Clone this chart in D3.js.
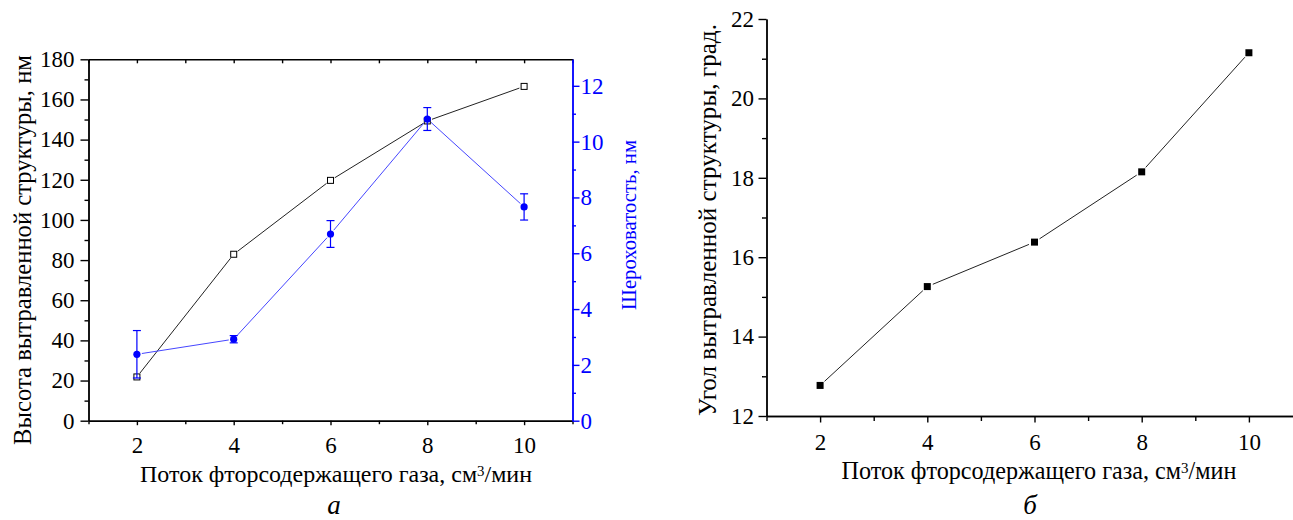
<!DOCTYPE html>
<html>
<head>
<meta charset="utf-8">
<script src="https://cdn.jsdelivr.net/npm/d3@7"></script>
<style>
  body { margin: 0; background: #fff; }
</style>
</head>
<body>
<svg id="svg1" width="1293" height="520"></svg>
<script>
// данные
var flow = [2, 4, 6, 8, 10];
var heightNm = [21.8, 82.9, 119.7, 149.3, 166.5];
var roughness = [2.38, 2.92, 6.69, 10.81, 7.66];
var roughnessErr = [0.85, 0.13, 0.48, 0.41, 0.47];
var angle = [12.77, 15.26, 16.38, 18.15, 21.15];

var xMajor = [2, 4, 6, 8, 10];
var xMinor = [1, 3, 5, 7, 9, 11];
var heightTicks = [0, 20, 40, 60, 80, 100, 120, 140, 160, 180];
var heightMinor = [10, 30, 50, 70, 90, 110, 130, 150, 170];
var roughTicks = [0, 2, 4, 6, 8, 10, 12];
var roughMinor = [1, 3, 5, 7, 9, 11];
var angleTicks = [12, 14, 16, 18, 20, 22];
var angleMinor = [13, 15, 17, 19, 21];

var blue = "#0000ff";
var fs = 23;
var font = "'Liberation Serif', 'Times New Roman', Times, serif";

var svg = d3.select("#svg1").attr("font-family", font);

// отрезки линии с зазором у маркеров (как в Origin)
function gapSegments(g, pts, gap, color) {
  for (var i = 0; i < pts.length - 1; i++) {
    var a = pts[i], b = pts[i + 1];
    var dx = b[0] - a[0], dy = b[1] - a[1];
    var len = Math.sqrt(dx * dx + dy * dy);
    var ux = dx / len, uy = dy / len;
    g.append("line")
      .attr("x1", a[0] + ux * gap).attr("y1", a[1] + uy * gap)
      .attr("x2", b[0] - ux * gap).attr("y2", b[1] - uy * gap)
      .attr("stroke", color).attr("stroke-width", 1);
  }
}

function styleAxis(sel, color) {
  sel.attr("font-family", font).attr("font-size", fs);
  sel.selectAll("path").attr("stroke", color).attr("stroke-width", 1.4);
  sel.selectAll("line").attr("stroke", color).attr("stroke-width", 1.4);
  sel.selectAll("text").attr("fill", color);
}

// подгоняем размер шрифта под длину подписи на картинке
function fitText(t, width) {
  t.attr("font-size", 20);
  var w = t.node().getComputedTextLength();
  t.attr("font-size", (20 * width / w).toFixed(2));
  return t;
}

function xTitle(x, y, width) {
  var t = svg.append("text").attr("x", x).attr("y", y).attr("text-anchor", "middle");
  t.append("tspan").text("Поток фторсодержащего газа, см");
  t.append("tspan").attr("dy", "-0.42em").attr("font-size", "0.62em").text("3");
  t.append("tspan").attr("dy", "0.26em").text("/мин");
  fitText(t, width);
}

function yTitle(x, y, width, label, color) {
  var t = svg.append("text").attr("transform", "translate(" + x + "," + y + ") rotate(-90)")
    .attr("text-anchor", "middle").attr("fill", color).text(label);
  fitText(t, width);
}

// ===== график а =====
var x1 = d3.scaleLinear().domain([1, 11]).range([88.5, 572.5]);
var yL = d3.scaleLinear().domain([0, 180]).range([420.7, 59.3]);
var yR = d3.scaleLinear().domain([0, 12.95]).range([420.7, 59.3]);

var gA = svg.append("g");

// верхняя рамка
var top1 = gA.append("g").attr("transform", "translate(0," + yL(180) + ")")
  .call(d3.axisTop(x1).tickValues(xMajor.concat(xMinor)).tickSize(-4).tickSizeOuter(0).tickFormat(""));
styleAxis(top1, "#000");

// нижняя ось
var bMin1 = gA.append("g").attr("transform", "translate(0," + yL(0) + ")")
  .call(d3.axisBottom(x1).tickValues(xMinor).tickSize(3.5).tickSizeOuter(0).tickFormat(""));
styleAxis(bMin1, "#000");
var bot1 = gA.append("g").attr("transform", "translate(0," + yL(0) + ")")
  .call(d3.axisBottom(x1).tickValues(xMajor).tickSize(4.5).tickSizeOuter(0).tickPadding(11));
styleAxis(bot1, "#000");

// левая ось
var lMin = gA.append("g").attr("transform", "translate(" + x1(1) + ",0)")
  .call(d3.axisLeft(yL).tickValues(heightMinor).tickSize(4).tickSizeOuter(0).tickFormat(""));
styleAxis(lMin, "#000");
var lAx = gA.append("g").attr("transform", "translate(" + x1(1) + ",0)")
  .call(d3.axisLeft(yL).tickValues(heightTicks).tickSize(8).tickSizeOuter(0).tickPadding(6));
styleAxis(lAx, "#000");

// правая ось (синяя)
var rMin = gA.append("g").attr("transform", "translate(" + x1(11) + ",0)")
  .call(d3.axisRight(yR).tickValues(roughMinor).tickSize(3.5).tickSizeOuter(0).tickFormat(""));
styleAxis(rMin, blue);
var rAx = gA.append("g").attr("transform", "translate(" + x1(11) + ",0)")
  .call(d3.axisRight(yR).tickValues(roughTicks).tickSize(7).tickSizeOuter(0).tickPadding(1));
styleAxis(rAx, blue);

// высота
var hPts = flow.map(function(d, i) { return [x1(d), yL(heightNm[i])]; });
gapSegments(gA, hPts, 5, "#222");
gA.selectAll(".hsq").data(hPts).enter().append("rect")
  .attr("x", function(d) { return d[0] - 3; }).attr("y", function(d) { return d[1] - 3; })
  .attr("width", 6).attr("height", 6)
  .attr("fill", "#fff").attr("stroke", "#000").attr("stroke-width", 1);

// шероховатость
var rPts = flow.map(function(d, i) { return [x1(d), yR(roughness[i])]; });
gapSegments(gA, rPts, 5, "#4646ff");
var eb = gA.selectAll(".err").data(flow).enter().append("g");
eb.append("line")
  .attr("x1", function(d) { return x1(d); }).attr("x2", function(d) { return x1(d); })
  .attr("y1", function(d, i) { return yR(roughness[i] - roughnessErr[i]); })
  .attr("y2", function(d, i) { return yR(roughness[i] + roughnessErr[i]); })
  .attr("stroke", blue).attr("stroke-width", 1.2);
[-1, 1].forEach(function(s) {
  eb.append("line")
    .attr("x1", function(d) { return x1(d) - 4; }).attr("x2", function(d) { return x1(d) + 4; })
    .attr("y1", function(d, i) { return yR(roughness[i] + s * roughnessErr[i]); })
    .attr("y2", function(d, i) { return yR(roughness[i] + s * roughnessErr[i]); })
    .attr("stroke", blue).attr("stroke-width", 1.2);
});
gA.selectAll(".rdot").data(rPts).enter().append("circle")
  .attr("cx", function(d) { return d[0]; }).attr("cy", function(d) { return d[1]; })
  .attr("r", 3.6).attr("fill", blue);

// подписи осей
yTitle(31, 250, 390, "Высота вытравленной структуры, нм", "#000");
yTitle(636, 225, 170, "Шероховатость, нм", blue);
xTitle(336, 482, 392);
svg.append("text").attr("x", 334).attr("y", 514).attr("text-anchor", "middle")
  .attr("font-size", 27).attr("font-style", "italic").text("а");

// ===== график б =====
var x2 = d3.scaleLinear().domain([1, 11]).range([766.5, 1302.5]);
var y2 = d3.scaleLinear().domain([12, 22]).range([416, 19]);
var gB = svg.append("g");

var bMin2 = gB.append("g").attr("transform", "translate(0," + y2(12) + ")")
  .call(d3.axisBottom(x2).tickValues(xMinor).tickSize(5).tickSizeOuter(0).tickFormat(""));
styleAxis(bMin2, "#000");
var bot2 = gB.append("g").attr("transform", "translate(0," + y2(12) + ")")
  .call(d3.axisBottom(x2).tickValues(xMajor).tickSize(6.5).tickSizeOuter(0).tickPadding(11));
styleAxis(bot2, "#000");

var lMin2 = gB.append("g").attr("transform", "translate(" + x2(1) + ",0)")
  .call(d3.axisLeft(y2).tickValues(angleMinor).tickSize(4.5).tickSizeOuter(0).tickFormat(""));
styleAxis(lMin2, "#000");
var lAx2 = gB.append("g").attr("transform", "translate(" + x2(1) + ",0)")
  .call(d3.axisLeft(y2).tickValues(angleTicks).tickSize(8).tickSizeOuter(0).tickPadding(4.5));
styleAxis(lAx2, "#000");

var aPts = flow.map(function(d, i) { return [x2(d), y2(angle[i])]; });
gapSegments(gB, aPts, 6, "#222");
gB.selectAll(".asq").data(aPts).enter().append("rect")
  .attr("x", function(d) { return d[0] - 3.5; }).attr("y", function(d) { return d[1] - 3.5; })
  .attr("width", 7).attr("height", 7).attr("fill", "#000");

yTitle(716, 220, 392, "Угол вытравленной структуры, град.", "#000");
xTitle(1039, 479, 395);
svg.append("text").attr("x", 1030).attr("y", 514).attr("text-anchor", "middle")
  .attr("font-size", 27).attr("font-style", "italic").text("б");
</script>
</body>
</html>
